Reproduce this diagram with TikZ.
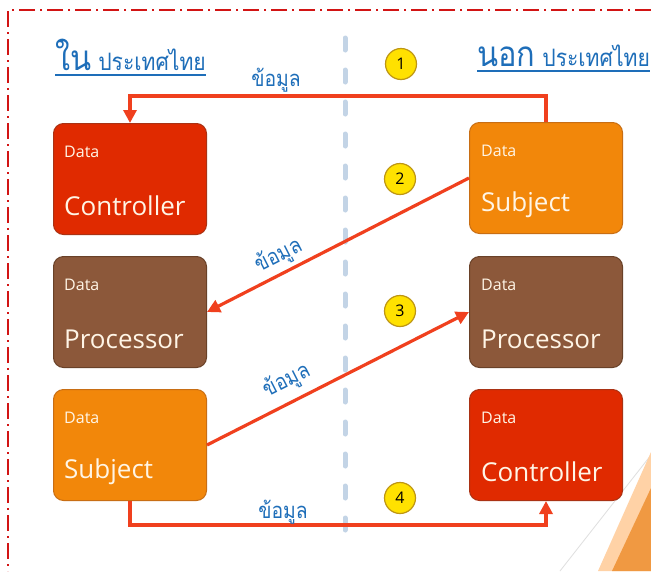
\documentclass[tikz,border=0pt]{standalone}
\usepackage{fontspec}
\setmainfont{Open Sans}
\newfontfamily\thaifont[Script=Thai,FakeStretch=0.88]{Loma}
\usetikzlibrary{arrows.meta}
\definecolor{ctrlred}{RGB}{224,42,0}
\definecolor{ctrledge}{RGB}{170,50,20}
\definecolor{subjor}{RGB}{242,135,10}
\definecolor{subjedge}{RGB}{200,110,20}
\definecolor{procbr}{RGB}{140,88,58}
\definecolor{procedge}{RGB}{105,65,40}
\definecolor{arrred}{RGB}{240,64,30}
\definecolor{thaiblue}{RGB}{30,110,185}
\definecolor{circyel}{RGB}{255,225,0}
\definecolor{circedge}{RGB}{190,150,20}
\definecolor{dashblue}{RGB}{195,212,230}
\definecolor{framered}{RGB}{210,20,20}
\definecolor{boxtext}{RGB}{255,245,230}
\tikzset{
  box/.style={draw, line width=1pt, rounded corners=10pt, minimum width=153pt, minimum height=111pt, inner sep=0pt},
  ctrl/.style={box, fill=ctrlred, draw=ctrledge},
  subj/.style={box, fill=subjor, draw=subjedge},
  proc/.style={box, fill=procbr, draw=procedge},
  small/.style={anchor=west, text=boxtext, font=\fontsize{16}{16}\selectfont, inner sep=0pt},
  big/.style={anchor=west, text=boxtext, font=\fontsize{26}{26}\selectfont, inner sep=0pt},
  arr/.style={draw=arrred, line width=3.2pt, -{Triangle[length=13pt,width=13pt]}},
  lbl/.style={text=thaiblue, font=\thaifont\fontsize{22}{22}\selectfont, inner sep=0pt},
  num/.style={circle, draw=circedge, fill=circyel, line width=1.2pt, minimum size=31pt, inner sep=0pt, font=\fontsize{16}{16}\selectfont},
  title/.style={text=thaiblue, inner sep=0pt, anchor=base west}
}
\begin{document}
\begin{tikzpicture}[x=1pt,y=-1pt]
\useasboundingbox[fill=white] (0,0) rectangle (651,571);
% background decoration bottom right
\draw[gray!25, line width=0.8pt] (560,571) -- (651,455);
\fill[orange!35!white] (651,452) -- (651,571) -- (598,571) -- cycle;
\fill[orange!70!brown!80!white] (651,488) -- (651,571) -- (612,571) -- cycle;
% frame
\draw[framered, line width=1.6pt, dash pattern=on 16pt off 5pt on 2pt off 5pt] (651,10) -- (8,10) -- (8,571);
% central dashed line
\draw[dashblue, line width=5pt, line cap=round, dash pattern=on 12pt off 20pt] (345,38) -- (345,545);
% titles
\node[title] (tl) at (55,70) {\thaifont\fontsize{35}{35}\selectfont ใน\hspace{7pt}\fontsize{24}{24}\selectfont ประเทศไทย};
\draw[thaiblue, line width=1.4pt] (55,75) -- (tl.east |- 0,75);
\node[title] (tr) at (477,66) {\thaifont\fontsize{35}{35}\selectfont นอก\hspace{7pt}\fontsize{24}{24}\selectfont ประเทศไทย};
\draw[thaiblue, line width=1.4pt] (477,71) -- (tr.east |- 0,71);
% boxes
\node[ctrl] (lc) at (130,179) {};
\node[proc] (lp) at (130,312) {};
\node[subj] (ls) at (130,445) {};
\node[subj] (rs) at (546,178) {};
\node[proc] (rp) at (546,312) {};
\node[ctrl] (rc) at (546,445) {};
% box texts
\node[small] (lcd) at (64,152) {Data};
\node[big] (lcm) at (64,206) {Controller};
\node[small] (lpd) at (64,285) {Data};
\node[big] (lpm) at (64,339) {Processor};
\node[small] (lsd) at (64,418) {Data};
\node[big] (lsm) at (64,472) {Subject};
\node[small] (rsd) at (481,151) {Data};
\node[big] (rsm) at (481,205) {Subject};
\node[small] (rpd) at (481,285) {Data};
\node[big] (rpm) at (481,339) {Processor};
\node[small] (rcd) at (481,418) {Data};
\node[big] (rcm) at (481,472) {Controller};
% arrows
\draw[arr] (rs.north) -- ++(0,-26) -| (lc.north);
\draw[arr] (rs.west) -- (lp.east);
\draw[arr] (ls.east) -- (rp.west);
\draw[arr] (ls.south) -- ++(0,24) -| (rc.south);
% labels
\node[lbl] (l1) at (276,80) {ข้อมูล};
\node[lbl, rotate=27] (l2) at (279,256) {ข้อมูล};
\node[lbl, rotate=27] (l3) at (287,381) {ข้อมูล};
\node[lbl] (l4) at (283,512) {ข้อมูล};
% numbered circles
\node[num] (n1) at (401,64) {1};
\node[num] (n2) at (400,179) {2};
\node[num] (n3) at (400,311) {3};
\node[num] (n4) at (400,498) {4};
\end{tikzpicture}
\end{document}
